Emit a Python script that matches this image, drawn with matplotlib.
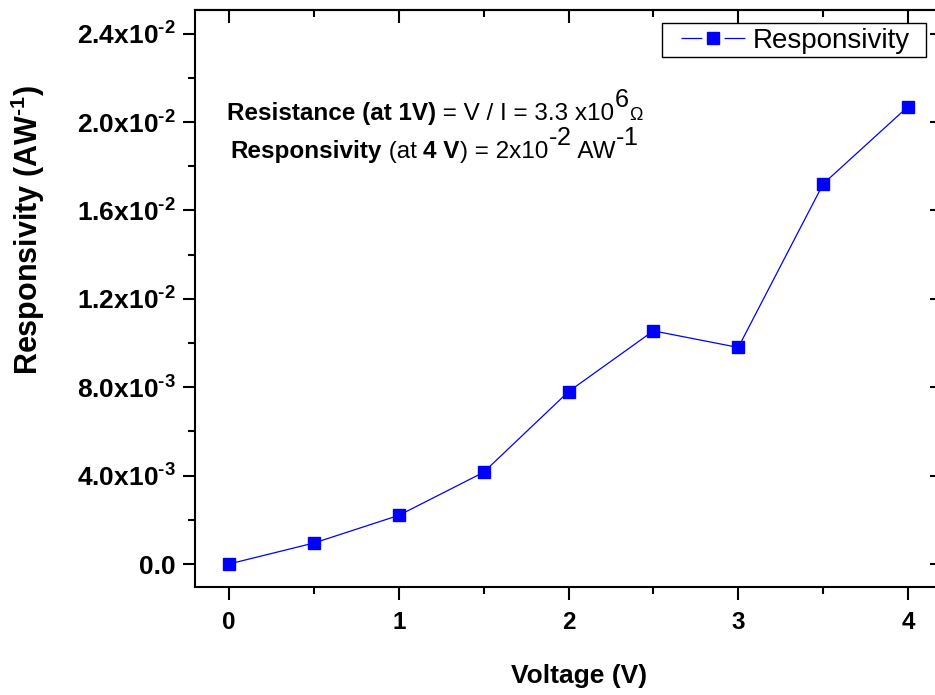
import matplotlib
matplotlib.use('Agg')
import matplotlib.pyplot as plt
from matplotlib.lines import Line2D
from matplotlib.patches import Rectangle
from matplotlib.offsetbox import TextArea, HPacker, VPacker, AnchoredOffsetbox
from matplotlib.ticker import FixedLocator, MultipleLocator

plt.rcParams['font.family'] = ['Liberation Sans', 'DejaVu Sans']
plt.rcParams['mathtext.fontset'] = 'custom'
plt.rcParams['mathtext.rm'] = 'Liberation Sans'
plt.rcParams['mathtext.bf'] = 'Liberation Sans:bold'
plt.rcParams['mathtext.it'] = 'Liberation Sans:italic'
plt.rcParams['lines.scale_dashes'] = False

# data
voltage = [0.0, 0.5, 1.0, 1.5, 2.0, 2.5, 3.0, 3.5, 4.0]
responsivity = [0.0, 0.95e-3, 2.2e-3, 4.15e-3, 7.8e-3, 10.55e-3, 9.8e-3, 17.2e-3, 20.7e-3]

y_ticks = [0.0, 4e-3, 8e-3, 12e-3, 16e-3, 20e-3, 24e-3]
y_tick_labels = ['0.0', '4.0x10$^{\\mathbf{\u20103}}$', '8.0x10$^{\\mathbf{\u20103}}$',
                 '1.2x10$^{\\mathbf{\u20102}}$', '1.6x10$^{\\mathbf{\u20102}}$',
                 '2.0x10$^{\\mathbf{\u20102}}$', '2.4x10$^{\\mathbf{\u20102}}$']

W, H = 935, 695
fig = plt.figure(figsize=(W / 100, H / 100), dpi=100)
ax = fig.add_axes([195 / W, 1 - 587 / H, (942 - 195) / W, (587 - 10) / H])

ax.plot(voltage, responsivity, color='#0000ff', lw=0.9, marker='s', markersize=8.5)

ax.set_xlim(-0.2, 4.2)
ax.set_ylim(-1.04e-3, 25.07e-3)
ax.xaxis.set_major_locator(MultipleLocator(1))
ax.xaxis.set_minor_locator(MultipleLocator(0.5))
ax.yaxis.set_major_locator(FixedLocator(y_ticks))
ax.yaxis.set_minor_locator(MultipleLocator(2e-3))
ax.set_yticklabels(y_tick_labels)

for sp in ax.spines.values():
    sp.set_linewidth(1.5)

ax.tick_params(axis='both', which='both', width=1.5, direction='out')
ax.tick_params(axis='both', which='major', length=9)
ax.tick_params(axis='both', which='minor', length=5)
ax.tick_params(axis='x', labelsize=17.5, pad=8)
ax.tick_params(axis='y', labelsize=19, pad=5)
for lab in ax.get_xticklabels() + ax.get_yticklabels():
    lab.set_fontweight('bold')

# top and right ticks point inward
top = ax.secondary_xaxis('top')
top.xaxis.set_major_locator(MultipleLocator(1))
top.xaxis.set_minor_locator(MultipleLocator(0.5))
top.tick_params(which='both', direction='in', width=1.5, labeltop=False)
top.tick_params(which='major', length=9)
top.tick_params(which='minor', length=5)
right = ax.secondary_yaxis('right')
right.yaxis.set_major_locator(FixedLocator(y_ticks))
right.yaxis.set_minor_locator(MultipleLocator(2e-3))
right.tick_params(which='both', direction='in', width=1.5, labelright=False)
right.tick_params(which='major', length=9)
right.tick_params(which='minor', length=5)
top.spines['top'].set_linewidth(1.5)
right.spines['right'].set_linewidth(1.5)

ax.set_xlabel('Voltage (V)', fontsize=19, fontweight='bold')
ax.xaxis.set_label_coords(0.514, -0.133)
ax.set_ylabel('Responsivity (AW$^{\\mathbf{\u20101}}$)', fontsize=22, fontweight='bold')
ax.yaxis.set_label_coords(-0.1976, 0.619)


def txt(s, size=17.5, weight='normal'):
    return TextArea(s, textprops=dict(fontsize=size, fontweight=weight))


line1 = HPacker(children=[txt('Resistance (at 1V)', weight='bold'), txt(' = V / I = 3.3 x10'),
                          txt('$^{6}$', size=26), txt('\u03a9', size=13)],
                align='baseline', pad=0, sep=0)
line2 = HPacker(children=[txt('Responsivity', weight='bold'), txt(' (at '),
                          txt('4 V', weight='bold'), txt(') = 2x10'),
                          txt('$^{\u20102}$', size=26), txt(' AW'), txt('$^{\u20101}$', size=26)],
                align='baseline', pad=0, sep=0)
block = VPacker(children=[line1, line2], align='center', pad=0, sep=2)
anchored = AnchoredOffsetbox(loc='upper center', child=block, frameon=False, pad=0, borderpad=0,
                             bbox_to_anchor=(434.5 / W, 1 - 93 / H), bbox_transform=fig.transFigure)
ax.add_artist(anchored)

# legend box drawn by hand so its padding matches the original
ax.add_patch(Rectangle((662 / W, 1 - 57 / H), (926 - 662) / W, 34 / H, transform=fig.transFigure,
                       facecolor='white', edgecolor='black', lw=1.0, clip_on=False, zorder=4.9))
handle = Line2D([], [], color='#0000ff', lw=0.9, ls=(0, (15, 16)), marker='s', markersize=8.5)
leg = ax.legend([handle], ['Responsivity'], loc='center left',
                bbox_to_anchor=(681 / W, 1 - 41 / H), bbox_transform=fig.transFigure,
                fontsize=20, frameon=False, borderpad=0, handlelength=2.3,
                handletextpad=0.28, borderaxespad=0)
leg.set_zorder(5)

fig.savefig('out.png', dpi=100)
